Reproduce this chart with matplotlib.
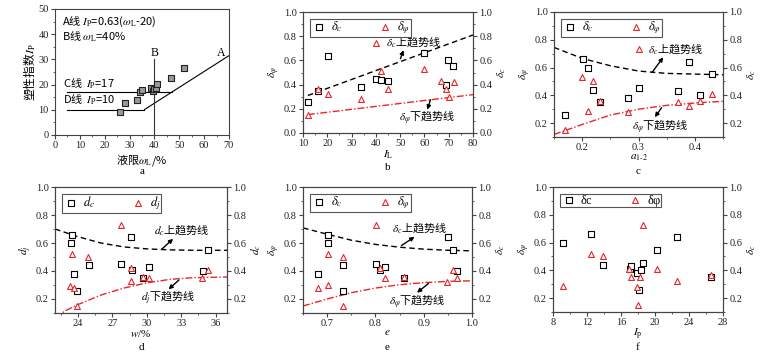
import matplotlib
matplotlib.use('Agg')
import matplotlib.pyplot as plt
from matplotlib.ticker import AutoMinorLocator

plt.rcParams['font.family'] = ['Liberation Serif', 'Noto Sans CJK SC']
plt.rcParams['mathtext.fontset'] = 'stix'
plt.rcParams['font.size'] = 7.5
plt.rcParams['axes.edgecolor'] = '#444444'
plt.rcParams['axes.linewidth'] = 0.8
plt.rcParams['xtick.major.size'] = 3
plt.rcParams['ytick.major.size'] = 3
plt.rcParams['xtick.minor.size'] = 1.5
plt.rcParams['ytick.minor.size'] = 1.5
CJK = 'Noto Sans CJK SC'
RED = '#e8262a'

# panel a: plasticity chart
wl_a = [26.1, 28.2, 32.8, 34.3, 35.2, 38.7, 39.5, 40.0, 40.7, 41.0, 46.6, 51.9]
ip_a = [9.1, 12.6, 14.0, 17.1, 18.0, 18.5, 17.3, 18.1, 18.5, 20.2, 22.8, 26.7]
lineA_x = [36, 70]
lineA_y = [10.1, 31.5]
lineC_x = [5, 47]
lineD_x = [5, 36]

# panel b: I_L
il_c = [12.1, 16.0, 20.3, 34.0, 40.2, 42.0, 45.0, 59.9, 68.7, 69.7, 71.7]
dc_b = [0.26, 0.35, 0.64, 0.38, 0.45, 0.44, 0.43, 0.66, 0.40, 0.60, 0.55]
il_p = [12.2, 16.2, 20.3, 34.0, 40.2, 42.0, 45.0, 59.9, 67.0, 68.7, 70.0, 72.0]
dp_b = [0.15, 0.36, 0.32, 0.28, 0.74, 0.51, 0.36, 0.53, 0.43, 0.36, 0.30, 0.42]
up_b_x, up_b_y = [12, 80], [0.31, 0.81]
lo_b_x, lo_b_y = [12, 80], [0.152, 0.317]

# panel c: a1-2
a_c = [0.170, 0.201, 0.210, 0.220, 0.231, 0.281, 0.301, 0.370, 0.390, 0.410, 0.431]
dc_c = [0.26, 0.66, 0.60, 0.44, 0.35, 0.38, 0.45, 0.43, 0.64, 0.40, 0.55]
a_p = [0.170, 0.200, 0.210, 0.220, 0.231, 0.281, 0.300, 0.370, 0.390, 0.410, 0.430]
dp_c = [0.15, 0.53, 0.29, 0.50, 0.36, 0.28, 0.73, 0.35, 0.32, 0.36, 0.41]
up_c_x = [0.15, 0.2, 0.25, 0.3, 0.35, 0.4, 0.45]
up_c_y = [0.745, 0.666, 0.613, 0.575, 0.558, 0.553, 0.548]
lo_c_x = [0.15, 0.2, 0.25, 0.3, 0.35, 0.4, 0.45]
lo_c_y = [0.118, 0.19, 0.258, 0.30, 0.328, 0.345, 0.357]

# panel d: w
w_c = [23.44, 23.41, 23.68, 23.88, 24.97, 27.76, 28.62, 28.71, 29.68, 30.18, 34.88, 35.32]
dc_d = [0.66, 0.60, 0.38, 0.26, 0.44, 0.45, 0.64, 0.41, 0.35, 0.43, 0.40, 0.55]
w_p = [23.5, 23.35, 23.68, 23.88, 24.91, 27.76, 28.65, 28.59, 29.68, 30.21, 34.85, 35.35]
dp_d = [0.52, 0.29, 0.28, 0.15, 0.50, 0.73, 0.42, 0.33, 0.36, 0.35, 0.35, 0.41]
up_d_x = [22, 24, 26, 28, 30, 32, 34, 37]
up_d_y = [0.70, 0.645, 0.60, 0.572, 0.558, 0.551, 0.548, 0.548]
lo_d_x = [22, 23, 24, 26, 28, 30, 32, 34, 37]
lo_d_y = [0.07, 0.12, 0.16, 0.228, 0.278, 0.315, 0.34, 0.352, 0.357]

# panel e: e
e_c = [0.682, 0.702, 0.702, 0.732, 0.732, 0.801, 0.810, 0.820, 0.860, 0.950, 0.960, 0.969]
dc_e = [0.38, 0.66, 0.60, 0.44, 0.26, 0.45, 0.41, 0.43, 0.35, 0.64, 0.55, 0.40]
e_p = [0.681, 0.702, 0.702, 0.732, 0.732, 0.801, 0.810, 0.820, 0.860, 0.949, 0.960, 0.969]
dp_e = [0.28, 0.30, 0.52, 0.50, 0.15, 0.73, 0.42, 0.35, 0.36, 0.32, 0.41, 0.35]
up_e_x = [0.65, 0.7, 0.75, 0.8, 0.85, 0.9, 0.95, 1.0]
up_e_y = [0.708, 0.663, 0.62, 0.59, 0.57, 0.556, 0.548, 0.544]
lo_e_x = [0.65, 0.7, 0.75, 0.8, 0.85, 0.9, 0.95, 1.0]
lo_e_y = [0.15, 0.2, 0.245, 0.278, 0.302, 0.317, 0.326, 0.330]

# panel f: I_p
ip_c = [9.18, 12.47, 13.92, 17.02, 17.22, 17.84, 18.08, 18.31, 18.59, 20.27, 22.63, 26.63]
dc_f = [0.60, 0.66, 0.44, 0.41, 0.43, 0.38, 0.26, 0.40, 0.45, 0.55, 0.64, 0.35]
ip_p = [9.22, 12.47, 13.92, 16.98, 17.22, 17.84, 18.0, 18.24, 18.59, 20.27, 22.63, 26.63]
dp_f = [0.29, 0.52, 0.50, 0.41, 0.35, 0.28, 0.15, 0.35, 0.73, 0.41, 0.32, 0.37]

W, H = 783, 363
fig = plt.figure(figsize=(W / 100, H / 100), dpi=100)


def box(l, t, r, b):
    return [l / W, 1 - b / H, (r - l) / W, (b - t) / H]


def style(ax):
    ax.xaxis.set_minor_locator(AutoMinorLocator(2))
    ax.yaxis.set_minor_locator(AutoMinorLocator(2))
    ax.tick_params(colors='#222222', labelsize=7.5, pad=1.5)
    ax.tick_params(which='both', color='#444444')


def delta_panel(rect, xc, yc, xp, yp, xlim, ylim, xticks, xlabel, letter,
                ylab, rlab, legc, legp):
    ax = fig.add_axes(box(*rect))
    ax.scatter(xc, yc, marker='s', s=14, facecolors='white',
               edgecolors='black', linewidths=0.8, label=legc, zorder=3)
    ax.scatter(xp, yp, marker='^', s=18, facecolors='white',
               edgecolors=RED, linewidths=0.8, label=legp, zorder=3)
    ax.set_xlim(*xlim)
    ax.set_ylim(*ylim)
    ax.set_xticks(xticks)
    ax.set_yticks([0.2, 0.4, 0.6, 0.8, 1.0] if ylim[0] > 0 else
                  [0, 0.2, 0.4, 0.6, 0.8, 1.0])
    ax.set_xlabel(xlabel, fontsize=8, labelpad=0)
    ax.set_ylabel(ylab, fontsize=8, labelpad=1)
    style(ax)
    ax2 = ax.twinx()
    ax2.set_ylim(*ylim)
    ax2.set_yticks(ax.get_yticks())
    ax2.set_ylabel(rlab, fontsize=8, labelpad=2)
    style(ax2)
    leg = ax.legend(loc='upper left', bbox_to_anchor=(0.005, 0.995), ncol=2,
                    fancybox=False, edgecolor='#555555', fontsize=9,
                    columnspacing=2.8, handletextpad=0.3, borderpad=0.05,
                    handlelength=1.3, markerscale=1.0, framealpha=1)
    leg.get_frame().set_linewidth(0.8)
    fig.text((rect[0] + rect[2]) / 2 / W, 1 - (rect[3] + 35) / H, letter,
             ha='center', va='center', fontsize=8)
    return ax


def trend(ax, ux, uy, lx, ly):
    ax.plot(ux, uy, color='black', ls=(0, (4, 2.5)), lw=1.0, zorder=2)
    ax.plot(lx, ly, color=RED, ls=(0, (5, 1.5, 1, 1.5)), lw=1.0, zorder=2)


def label(ax, txt, xy, head, tail):
    ax.text(xy[0], xy[1], txt, fontfamily=CJK, fontsize=8, va='center')
    ax.annotate('', xy=head, xytext=tail,
                arrowprops=dict(arrowstyle='-|>', color='black', lw=1.0,
                                mutation_scale=6, shrinkA=0, shrinkB=0))


# ---- a ----
ax = fig.add_axes(box(55, 9, 229, 135))
ax.plot(lineA_x, lineA_y, color='black', lw=0.8)
ax.plot(lineC_x, [17, 17], color='black', lw=0.8)
ax.plot(lineD_x, [10, 10], color='black', lw=0.8)
ax.plot([40, 40], [0, 30], color='#333333', lw=0.8)
ax.scatter(wl_a, ip_a, marker='s', s=14, facecolors='#9a9a9a',
           edgecolors='#222222', linewidths=0.8, zorder=3)
ax.set_xlim(0, 70)
ax.set_ylim(0, 50)
ax.set_xticks(range(0, 71, 10))
ax.set_yticks(range(0, 51, 10))
style(ax)
ax.text(2.7, 45, r'A线 $I_{\rm P}$=0.63($\omega_{\rm L}$-20)', fontfamily=CJK,
        fontsize=8, va='center')
ax.text(2.7, 39, r'B线 $\omega_{\rm L}$=40%', fontfamily=CJK, fontsize=8,
        va='center')
ax.text(40, 32.5, 'B', ha='center', va='center', fontsize=8.5)
ax.text(67, 32.5, 'A', ha='center', va='center', fontsize=8.5)
ax.text(3.3, 20.3, r'C线  $I_{\rm P}$=17', fontfamily=CJK, fontsize=8,
        va='center')
ax.text(3.3, 13.8, r'D线  $I_{\rm P}$=10', fontfamily=CJK, fontsize=8,
        va='center')
ax.set_xlabel(r'液限$\omega_{\rm L}$/%', fontfamily=CJK, fontsize=8, labelpad=1)
ax.set_ylabel(r'塑性指数$I_{\rm P}$', fontfamily=CJK, fontsize=8.5, labelpad=1)
fig.text(142 / W, 1 - 172 / H, 'a', ha='center', va='center', fontsize=8)

# ---- b ----
ax = delta_panel((303, 12, 473, 133), il_c, dc_b, il_p, dp_b, (10, 80), (0, 1.0),
                 range(10, 81, 10), r'$I_{\rm L}$', 'b', r'$\delta_\varphi$',
                 r'$\delta_c$', r'$\delta_c$', r'$\delta_\varphi$')
trend(ax, up_b_x, up_b_y, lo_b_x, lo_b_y)
label(ax, r'$\delta_c$上趋势线', (44, 0.75), (51.4, 0.685), (50.1, 0.614))
label(ax, r'$\delta_\varphi$下趋势线', (49.4, 0.124), (61.2, 0.193), (62.5, 0.275))

# ---- c ----
ax = delta_panel((554, 12, 723, 137), a_c, dc_c, a_p, dp_c, (0.15, 0.45),
                 (0.1, 1.0), [0.2, 0.3, 0.4], r'$a_{1\text{-}2}$', 'c',
                 r'$\delta_\varphi$', r'$\delta_c$', r'$\delta_c$',
                 r'$\delta_\varphi$')
trend(ax, up_c_x, up_c_y, lo_c_x, lo_c_y)
label(ax, r'$\delta_c$上趋势线', (0.317, 0.732), (0.344, 0.674), (0.324, 0.565))
label(ax, r'$\delta_\varphi$下趋势线', (0.288, 0.171), (0.329, 0.243), (0.341, 0.311))

# ---- d ----
ax = delta_panel((55, 187, 227, 313), w_c, dc_d, w_p, dp_d, (22, 37),
                 (0.1, 1.0), range(24, 37, 3), r'$w$/%', 'd', r'$d_j$',
                 r'$d_c$', r'$d_c$', r'$d_j$')
trend(ax, up_d_x, up_d_y, lo_d_x, lo_d_y)
label(ax, r'$d_c$上趋势线', (30.6, 0.69), (32.3, 0.63), (31.3, 0.555))
label(ax, r'$d_j$下趋势线', (29.5, 0.207), (31.9, 0.269), (32.8, 0.335))

# ---- e ----
ax = delta_panel((303, 187, 472, 313), e_c, dc_e, e_p, dp_e, (0.65, 1.0),
                 (0.1, 1.0), [0.7, 0.8, 0.9, 1.0], r'$e$', 'e',
                 r'$\delta_\varphi$', r'$\delta_c$', r'$\delta_c$',
                 r'$\delta_\varphi$')
trend(ax, up_e_x, up_e_y, lo_e_x, lo_e_y)
label(ax, r'$\delta_c$上趋势线', (0.834, 0.708), (0.881, 0.644), (0.854, 0.582))
label(ax, r'$\delta_\varphi$下趋势线', (0.829, 0.173), (0.886, 0.245), (0.91, 0.311))

# ---- f ----
ax = delta_panel((553, 187, 723, 312), ip_c, dc_f, ip_p, dp_f, (8, 28),
                 (0.1, 1.0), range(8, 29, 4), r'$I_{\rm p}$', 'f',
                 r'$\delta_\varphi$', r'$\delta_c$', 'δc', 'δφ')

fig.savefig('out.png', dpi=100)
